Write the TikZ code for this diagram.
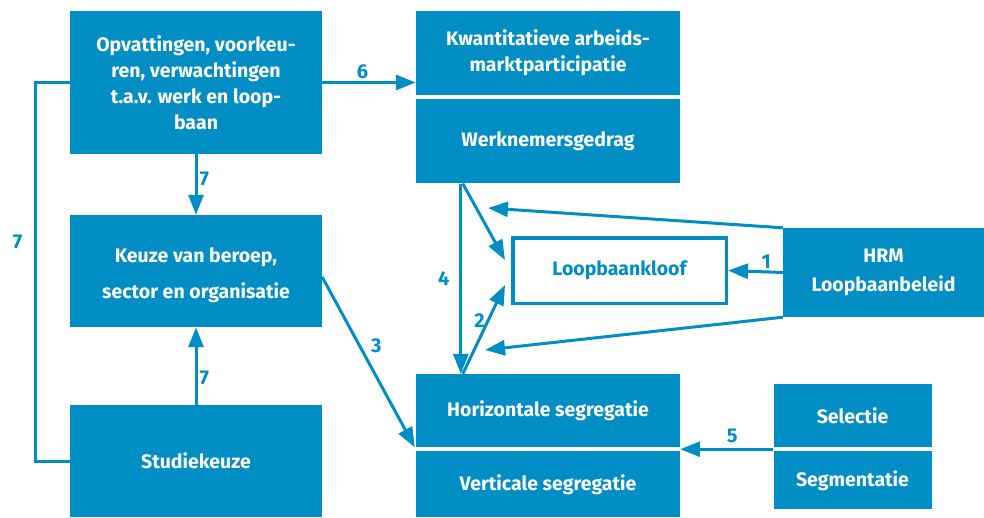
\documentclass[tikz,border=0pt]{standalone}
\usepackage{fontspec}
\setmainfont{Fira Sans}
\usepackage{tikz}
\usetikzlibrary{arrows.meta, positioning, calc}
\definecolor{kloofblauw}{RGB}{0, 142, 196}

\begin{document}
\begin{tikzpicture}[
        x=1pt, y=-1pt,
        box/.style={rectangle, fill=kloofblauw, text=white, inner sep=0pt,
                    align=center, font=\fontsize{19.5}{26}\selectfont\bfseries},
        gap/.style={rectangle, draw=kloofblauw, line width=3.5pt, fill=white,
                    text=kloofblauw, inner sep=0pt, align=center,
                    font=\fontsize{19.5}{26}\selectfont\bfseries},
        arr/.style={draw=kloofblauw, line width=3pt, -{Triangle[length=20pt, width=15pt]}},
        lijn/.style={draw=kloofblauw, line width=3pt},
        nr/.style={text=kloofblauw, font=\fontsize{20}{20}\selectfont\bfseries, inner sep=2pt}
      ]
        \useasboundingbox (0,0) rectangle (984,517);
        % linker kolom
        \node[box, minimum width=252pt, minimum height=143pt] (opv) at (196,82.5)
             {Opvattingen, voorkeu-\\ren, verwachtingen\\t.a.v. werk en loop-\\baan};
        \node[box, minimum width=252pt, minimum height=112pt] (keuze) at (196,271) {};
        \node[box, fill=none] (keuzetekst) at (196,275.5)
             {Keuze van beroep,\\[10pt]sector en organisatie};
        \node[box, minimum width=252pt, minimum height=112pt] (studie) at (196,461) {Studiekeuze};
        % midden
        \node[box, minimum width=264pt, minimum height=84pt] (kwant) at (548,53)
             {Kwantitatieve arbeids-\\marktparticipatie};
        \node[box, minimum width=264pt, minimum height=84pt, below=4pt of kwant] (werk) {Werknemersgedrag};
        \node[gap, minimum width=213.5pt, minimum height=65.5pt] (kloof) at (619.5,270.5) {Loopbaankloof};
        \node[box, minimum width=264pt, minimum height=73pt] (hor) at (548,410.5) {Horizontale segregatie};
        \node[box, minimum width=264pt, minimum height=66pt, below=4pt of hor] (vert) {Verticale segregatie};
        % rechts
        \node[box, minimum width=201pt, minimum height=89pt] (hrm) at (883.5,272.5)
             {HRM\\[3pt]Loopbaanbeleid};
        \node[box, minimum width=158pt, minimum height=63pt] (sel) at (852.5,415.5) {Selectie};
        \node[box, minimum width=158pt, minimum height=58pt, below=4pt of sel] (seg) {Segmentatie};

        \coordinate (werkvoet) at ([xshift=45pt]werk.south west);
        \coordinate (horkop) at ([xshift=45pt]hor.north west);
        \coordinate (kloofboven) at (505,260);
        \coordinate (kloofonder) at (505,285);
        \coordinate (hrmboven) at (488,208);
        \coordinate (hrmonder) at (485,350);
        \coordinate (segnaad) at ($(sel.south west)!0.5!(seg.north west)$);
        \coordinate (hornaad) at ($(hor.south west)!0.5!(vert.north west)$);

        \draw[arr] (opv.east) -- node[nr, pos=0.43, above] (n6) {6} (opv.east -| kwant.west);
        \draw[arr] (opv) -- node[nr, pos=0.4, right] (n7a) {7} (keuze);
        \draw[arr] (studie) -- node[nr, pos=0.35, right] (n7b) {7} (keuze);
        \draw[lijn] (opv.west) -- ++(-34,0) |- node[nr, pos=0.21, left=10pt] (n7c) {7} (studie.west);
        \draw[arr, shorten >=2pt] ([yshift=-6pt]keuze.east) -- node[nr, pos=0.4, right=8pt] (n3) {3} (hornaad);
        \draw[arr] (werkvoet) -- node[nr, pos=0.5, left=8pt] (n4) {4} (horkop);
        \draw[arr] ([xshift=2pt]werkvoet) -- (kloofboven);
        \draw[arr] ([xshift=2pt]horkop) -- node[nr, pos=0.6, left=0pt] (n2) {2} (kloofonder);
        \draw[arr] (hrm.north west) -- (hrmboven);
        \draw[arr] (hrm.south west) -- (hrmonder);
        \draw[arr] (hrm.west) -- node[nr, pos=0.3, above] (n1) {1} (kloof.east);
        \draw[arr] (segnaad) -- node[nr, pos=0.44, above=3pt] (n5) {5} (segnaad -| hor.east);
      \end{tikzpicture}
\end{document}
